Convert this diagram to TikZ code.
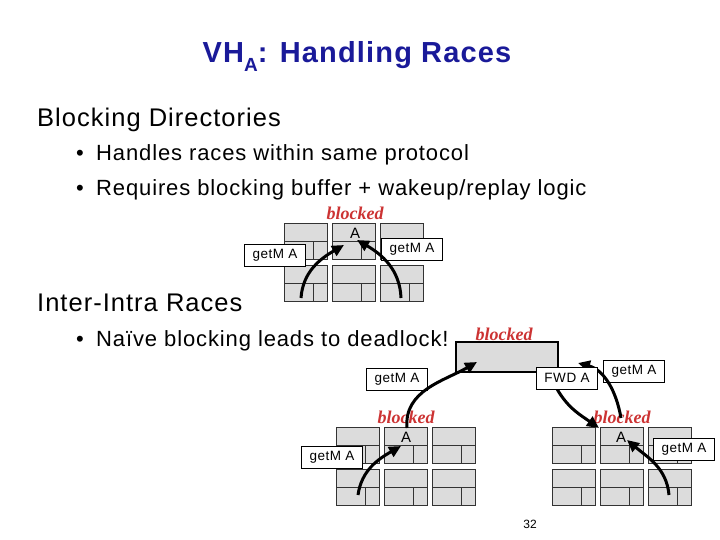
\documentclass[tikz,border=0pt]{standalone}
\usepackage{fontspec}
\setmainfont{Liberation Sans}
\newfontfamily\slfont[LetterSpace=4]{Liberation Sans}
\newfontfamily\timesfont{Liberation Serif}
\usetikzlibrary{arrows.meta}
\definecolor{slblue}{HTML}{1A1A99}
\definecolor{slred}{HTML}{CC3333}
\definecolor{sltile}{HTML}{DCDCDC}

\begin{document}
\begin{tikzpicture}[x=1pt, y=-1pt,
    head/.style={text=slblue, font=\slfont\bfseries\fontsize{29}{33}\selectfont, anchor=base, inner sep=0pt},
    lvlone/.style={font=\slfont\fontsize{25.5}{29}\selectfont, anchor=base west, inner sep=0pt},
    lvltwo/.style={font=\slfont\fontsize{22}{26}\selectfont, anchor=base west, inner sep=0pt},
    msg/.style={draw=black, fill=white, line width=0.6pt, font=\slfont\fontsize{13.5}{15}\selectfont,
                minimum width=61pt, minimum height=22pt, inner sep=2pt},
    blk/.style={text=slred, font=\timesfont\bfseries\itshape\fontsize{18}{20}\selectfont, inner sep=0pt},
    addr/.style={font=\fontsize{15}{17}\selectfont, inner sep=0pt},
    cell/.style={fill=sltile, draw=black!80, line width=0.6pt},
    dirbox/.style={fill=sltile, draw=black, line width=1.8pt, minimum width=102pt, minimum height=30pt},
    edg/.style={line width=3pt, -{Triangle[length=12pt, width=11pt]}}]
    \useasboundingbox (0,0) rectangle (720,540);

    % text of the slide
    \node[head] (title) at (357,63) {VH\raisebox{-0.3em}{\fontsize{19}{21}\selectfont A}: Handling Races};
    \node[lvlone] (blkdir) at (37,127) {Blocking Directories};
    \node[lvltwo] (b1) at (76,161) {\makebox[20pt][l]{\textbullet}Handles races within same protocol};
    \node[lvltwo] (b2) at (76,196) {\makebox[20pt][l]{\textbullet}Requires blocking buffer + wakeup/replay logic};
    \node[lvlone] (inter) at (37,311) {Inter-Intra Races};
    \node[lvltwo] (b3) at (76,346) {\makebox[20pt][l]{\textbullet}Naïve blocking leads to deadlock!};
    \node[font=\fontsize{12}{14}\selectfont] (pgnum) at (530,524) {32};

    % tiles
    \foreach \gx/\gy in {284/223, 336/427, 552/427} {
      \foreach \c in {0,1,2} {
        \foreach \r in {0,1} {
          \draw[cell] ({\gx+48*\c},{\gy+42*\r}) rectangle ++(43,36);
          \draw[draw=black!80, line width=0.6pt] ({\gx+48*\c},{\gy+42*\r+18}) -- ++(43,0)
                ({\gx+48*\c+29},{\gy+42*\r+18}) -- ++(0,18);
        }
      }
    }

    % blocking directory
    \node[blk] (blk0) at (355,213) {blocked};
    \node[addr] (a0) at (355,233) {A};
    \node[msg] (m0l) at (275,255) {getM A};
    \node[msg] (m0r) at (412,249) {getM A};
    \coordinate (s0l) at (301,298);
    \coordinate (t0l) at (344,245);
    \coordinate (s0r) at (401,298);
    \coordinate (t0r) at (357,240);
    \draw[edg] (s0l) to[out=86, in=210] (t0l);
    \draw[edg] (s0r) to[out=92, in=-30] (t0r);

    % inter-intra races
    \node[dirbox] (dir) at (507,357) {};
    \node[blk] (blkd) at (504,334) {blocked};
    \node[blk] (blkl) at (406,417) {blocked};
    \node[blk] (blkr) at (622,417) {blocked};
    \node[addr] (al) at (406,437) {A};
    \node[addr] (ar) at (621,437) {A};
    \node[msg] (m1) at (397,379) {getM A};
    \node[msg] (m2) at (332,457) {getM A};
    \node[msg] (m3) at (634,371) {getM A};
    \node[msg] (m4) at (684,449) {getM A};
    \coordinate (s1) at (407,428);
    \coordinate (t1) at (477,362);
    \coordinate (s2) at (358,495);
    \coordinate (t2) at (401,446);
    \coordinate (s3) at (557,389);
    \coordinate (t3) at (599,428);
    \coordinate (s4) at (621,418);
    \coordinate (t4) at (578,363);
    \coordinate (s5) at (669,495);
    \coordinate (t5) at (627,440);
    \draw[edg] (s1) to[out=95, in=210] (t1);
    \draw[edg] (s2) to[out=82, in=210] (t2);
    \draw[edg] (s3) to[out=-60, in=145] (t3);
    \draw[edg] (s4) to[out=100, in=-15] (t4);
    \draw[edg] (s5) to[out=95, in=-40] (t5);
    \node[msg] (fwd) at (567,378) {FWD A};
  \end{tikzpicture}
\end{document}
